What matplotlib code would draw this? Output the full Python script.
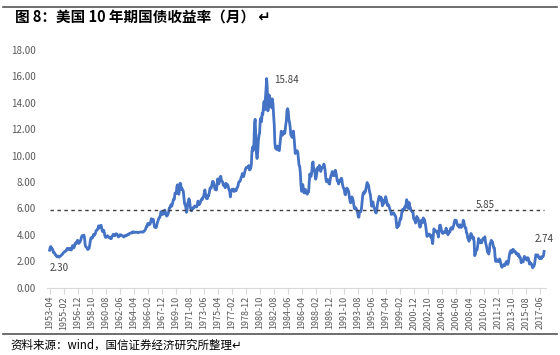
# -*- coding: utf-8 -*-
import matplotlib.pyplot as plt
import pandas as pd

plt.rcParams['font.family'] = ['Noto Sans CJK SC', 'DejaVu Sans']

# 10 year treasury yield, monthly, 1953-04 .. 2018-01
y1953 = [2.83, 3.05, 3.11, 2.93, 2.95, 2.87, 2.66, 2.68, 2.59]
y1954 = [2.48, 2.47, 2.37, 2.32, 2.37, 2.38, 2.30, 2.36, 2.38, 2.43, 2.48, 2.51]
y1955 = [2.61, 2.65, 2.68, 2.75, 2.76, 2.78, 2.90, 2.97, 2.97, 2.88, 2.89, 2.96]
y1956 = [2.90, 2.84, 2.96, 3.18, 3.07, 3.00, 3.11, 3.33, 3.38, 3.34, 3.49, 3.59]
y1957 = [3.46, 3.34, 3.41, 3.48, 3.60, 3.80, 3.93, 3.93, 3.92, 3.97, 3.72, 3.21]
y1958 = [3.09, 3.05, 2.98, 2.88, 2.92, 2.97, 3.20, 3.54, 3.76, 3.80, 3.74, 3.86]
y1959 = [4.02, 3.96, 3.99, 4.12, 4.31, 4.34, 4.40, 4.43, 4.68, 4.53, 4.53, 4.69]
y1960 = [4.72, 4.49, 4.25, 4.28, 4.35, 4.15, 3.90, 3.80, 3.80, 3.89, 3.93, 3.84]
y1961 = [3.84, 3.78, 3.74, 3.78, 3.71, 3.88, 3.92, 4.04, 3.98, 3.92, 3.94, 4.06]
y1962 = [4.08, 4.04, 3.93, 3.84, 3.87, 3.91, 4.01, 3.98, 3.98, 3.93, 3.92, 3.86]
y1963 = [3.83, 3.92, 3.93, 3.97, 3.93, 3.99, 4.02, 4.00, 4.08, 4.11, 4.12, 4.13]
y1964 = [4.17, 4.15, 4.22, 4.23, 4.20, 4.17, 4.19, 4.19, 4.20, 4.19, 4.15, 4.18]
y1965 = [4.19, 4.21, 4.21, 4.20, 4.21, 4.21, 4.20, 4.25, 4.29, 4.35, 4.45, 4.62]
y1966 = [4.61, 4.83, 4.87, 4.75, 4.78, 4.81, 5.02, 5.22, 5.18, 5.01, 5.16, 4.84]
y1967 = [4.58, 4.63, 4.54, 4.59, 4.85, 5.02, 5.16, 5.28, 5.30, 5.48, 5.75, 5.70]
y1968 = [5.53, 5.56, 5.74, 5.64, 5.87, 5.72, 5.50, 5.42, 5.46, 5.58, 5.70, 6.03]
y1969 = [6.04, 6.19, 6.30, 6.17, 6.32, 6.57, 6.72, 6.69, 7.16, 7.10, 7.14, 7.65]
y1970 = [7.79, 7.24, 7.07, 7.39, 7.91, 7.84, 7.46, 7.53, 7.39, 7.33, 6.84, 6.39]
y1971 = [6.24, 6.11, 5.70, 5.83, 6.39, 6.52, 6.73, 6.58, 6.14, 5.93, 5.81, 5.93]
y1972 = [5.95, 6.08, 6.07, 6.19, 6.13, 6.11, 6.11, 6.21, 6.55, 6.48, 6.28, 6.36]
y1973 = [6.46, 6.64, 6.71, 6.67, 6.85, 6.90, 7.13, 7.40, 7.09, 6.79, 6.73, 6.74]
y1974 = [6.99, 6.96, 7.21, 7.51, 7.58, 7.54, 7.81, 8.04, 8.04, 7.90, 7.68, 7.43]
y1975 = [7.50, 7.39, 7.73, 8.23, 8.06, 7.86, 8.06, 8.40, 8.43, 8.14, 8.05, 8.00]
y1976 = [7.74, 7.79, 7.73, 7.56, 7.90, 7.86, 7.83, 7.77, 7.59, 7.41, 7.29, 6.87]
y1977 = [7.21, 7.39, 7.46, 7.37, 7.46, 7.28, 7.33, 7.40, 7.34, 7.52, 7.58, 7.69]
y1978 = [7.96, 8.03, 8.04, 8.15, 8.35, 8.46, 8.64, 8.41, 8.42, 8.64, 8.81, 9.01]
y1979 = [9.10, 9.10, 9.12, 9.18, 9.25, 8.91, 8.95, 9.03, 9.33, 10.30, 10.65, 10.39]
y1980 = [10.80, 12.41, 12.75, 11.47, 10.18, 9.78, 10.25, 11.10, 11.51, 11.75, 12.68, 12.84]
y1981 = [12.57, 13.19, 13.12, 13.68, 14.10, 13.47, 14.28, 14.94, 15.84, 15.15, 13.39, 13.72]
y1982 = [14.59, 14.43, 13.86, 13.87, 13.62, 14.30, 13.95, 13.06, 12.34, 10.91, 10.55, 10.54]
y1983 = [10.46, 10.72, 10.51, 10.40, 10.38, 10.85, 11.38, 11.85, 11.65, 11.54, 11.69, 11.83]
y1984 = [11.67, 11.84, 12.32, 12.63, 13.41, 13.56, 13.36, 12.72, 12.52, 12.16, 11.57, 11.50]
y1985 = [11.38, 11.51, 11.86, 11.43, 10.85, 10.16, 10.31, 10.33, 10.37, 10.24, 9.78, 9.26]
y1986 = [9.19, 8.70, 7.78, 7.30, 7.71, 7.80, 7.30, 7.17, 7.45, 7.43, 7.25, 7.11]
y1987 = [7.08, 7.25, 7.25, 8.02, 8.61, 8.40, 8.45, 8.76, 9.42, 9.52, 8.86, 8.99]
y1988 = [8.67, 8.21, 8.37, 8.72, 9.09, 8.92, 9.06, 9.26, 8.98, 8.80, 8.96, 9.11]
y1989 = [9.09, 9.17, 9.36, 9.18, 8.86, 8.28, 8.02, 8.11, 8.19, 8.01, 7.87, 7.84]
y1990 = [8.21, 8.47, 8.59, 8.79, 8.76, 8.48, 8.47, 8.75, 8.89, 8.72, 8.39, 8.08]
y1991 = [8.09, 7.85, 8.11, 8.04, 8.07, 8.28, 8.27, 7.90, 7.65, 7.53, 7.42, 7.09]
y1992 = [7.03, 7.34, 7.54, 7.48, 7.39, 7.26, 6.84, 6.59, 6.42, 6.59, 6.87, 6.77]
y1993 = [6.60, 6.26, 5.98, 5.97, 6.04, 5.96, 5.81, 5.68, 5.36, 5.33, 5.72, 5.77]
y1994 = [5.75, 5.97, 6.48, 6.97, 7.18, 7.10, 7.30, 7.24, 7.46, 7.74, 7.96, 7.81]
y1995 = [7.78, 7.47, 7.20, 7.06, 6.63, 6.17, 6.28, 6.49, 6.20, 6.04, 5.93, 5.71]
y1996 = [5.65, 5.81, 6.27, 6.51, 6.74, 6.91, 6.87, 6.64, 6.83, 6.53, 6.20, 6.30]
y1997 = [6.58, 6.42, 6.69, 6.89, 6.71, 6.49, 6.22, 6.30, 6.21, 6.03, 5.88, 5.81]
y1998 = [5.54, 5.57, 5.65, 5.64, 5.65, 5.50, 5.46, 5.34, 4.81, 4.53, 4.83, 4.65]
y1999 = [4.72, 5.00, 5.23, 5.18, 5.54, 5.90, 5.79, 5.94, 5.92, 6.11, 6.03, 6.28]
y2000 = [6.66, 6.52, 6.26, 5.99, 6.44, 6.10, 6.05, 5.83, 5.80, 5.74, 5.72, 5.24]
y2001 = [5.16, 5.10, 4.89, 5.14, 5.39, 5.28, 5.24, 4.97, 4.73, 4.57, 4.65, 5.09]
y2002 = [5.04, 4.91, 5.28, 5.21, 5.16, 4.93, 4.65, 4.26, 3.87, 3.94, 4.05, 4.03]
y2003 = [4.05, 3.90, 3.81, 3.96, 3.57, 3.33, 3.98, 4.45, 4.27, 4.29, 4.30, 4.27]
y2004 = [4.15, 4.08, 3.83, 4.35, 4.72, 4.73, 4.50, 4.28, 4.13, 4.10, 4.19, 4.23]
y2005 = [4.22, 4.17, 4.50, 4.34, 4.14, 4.00, 4.18, 4.26, 4.20, 4.46, 4.54, 4.47]
y2006 = [4.42, 4.57, 4.72, 4.99, 5.11, 5.11, 5.09, 4.88, 4.72, 4.73, 4.60, 4.56]
y2007 = [4.76, 4.72, 4.56, 4.69, 4.75, 5.10, 5.00, 4.67, 4.52, 4.53, 4.15, 4.10]
y2008 = [3.74, 3.74, 3.51, 3.68, 3.88, 4.10, 4.01, 3.89, 3.69, 3.81, 3.53, 2.42]
y2009 = [2.52, 2.87, 2.82, 2.93, 3.29, 3.72, 3.56, 3.59, 3.40, 3.39, 3.40, 3.59]
y2010 = [3.73, 3.69, 3.73, 3.85, 3.42, 3.20, 3.01, 2.70, 2.65, 2.54, 2.76, 3.29]
y2011 = [3.39, 3.58, 3.41, 3.46, 3.17, 3.00, 3.00, 2.30, 1.98, 2.15, 2.01, 1.98]
y2012 = [1.97, 1.97, 2.17, 2.05, 1.80, 1.62, 1.53, 1.68, 1.72, 1.75, 1.65, 1.72]
y2013 = [1.91, 1.98, 1.96, 1.76, 1.93, 2.30, 2.58, 2.74, 2.81, 2.62, 2.72, 2.90]
y2014 = [2.86, 2.71, 2.72, 2.71, 2.56, 2.60, 2.54, 2.42, 2.53, 2.30, 2.33, 2.21]
y2015 = [1.88, 1.98, 2.04, 1.94, 2.20, 2.36, 2.32, 2.17, 2.17, 2.07, 2.26, 2.24]
y2016 = [2.09, 1.78, 1.89, 1.81, 1.81, 1.64, 1.50, 1.56, 1.63, 1.76, 2.14, 2.49]
y2017 = [2.43, 2.42, 2.48, 2.30, 2.30, 2.19, 2.32, 2.21, 2.20, 2.36, 2.35, 2.40]
y2018 = [2.74]

years = [y1953, y1954, y1955, y1956, y1957, y1958, y1959, y1960, y1961, y1962,
         y1963, y1964, y1965, y1966, y1967, y1968, y1969, y1970, y1971, y1972,
         y1973, y1974, y1975, y1976, y1977, y1978, y1979, y1980, y1981, y1982,
         y1983, y1984, y1985, y1986, y1987, y1988, y1989, y1990, y1991, y1992,
         y1993, y1994, y1995, y1996, y1997, y1998, y1999, y2000, y2001, y2002,
         y2003, y2004, y2005, y2006, y2007, y2008, y2009, y2010, y2011, y2012,
         y2013, y2014, y2015, y2016, y2017, y2018]
values = [v for yr in years for v in yr]
months = pd.period_range('1953-04', periods=len(values), freq='M').strftime('%Y-%m').tolist()

avg = 5.85
label_every = 22

if __name__ == '__main__':
    x = list(range(len(values)))
    fig = plt.figure(figsize=(5.6, 3.55), dpi=100)
    ax = fig.add_axes([0.084, 0.19, 0.891, 0.669])

    ax.plot(x, values, color='#4472C4', lw=2.0)
    ax.plot(x, [avg] * len(x), color='#404040', lw=1.0, ls=(0, (2.5, 2.5)))

    # labels
    i_min = values.index(min(values[:30]))
    i_max = values.index(max(values))
    ax.text(i_min, values[i_min] - 0.45, '%.2f' % values[i_min], ha='center', va='top',
            fontsize=7, color='#404040')
    ax.text(i_max + 12, values[i_max] - 0.1, '%.2f' % values[i_max], ha='left', va='center',
            fontsize=7, color='#404040')
    ax.text(len(x) - 94, avg + 0.05, '%.2f' % avg, ha='center', va='bottom',
            fontsize=7, color='#404040')
    ax.text(len(x) - 1, values[-1] + 0.55, '%.2f' % values[-1], ha='center', va='bottom',
            fontsize=7, color='#404040')

    ax.set_ylim(0, 18)
    ax.set_yticks(range(0, 19, 2))
    ax.set_yticklabels(['%.2f' % v for v in range(0, 19, 2)])
    ax.set_xlim(-4, len(x) + 2)
    ticks = list(range(0, len(x), label_every))
    ax.set_xticks(ticks)
    ax.set_xticklabels([months[i] for i in ticks], rotation=90)
    ax.tick_params(axis='y', length=0, labelsize=7, labelcolor='#595959', pad=8)
    ax.tick_params(axis='x', length=4, color='#d9d9d9', labelsize=6.5, labelcolor='#595959', pad=2)
    for s in ['top', 'right', 'left']:
        ax.spines[s].set_visible(False)
    ax.spines['bottom'].set_color('#d9d9d9')

    # title / source
    fig.add_artist(plt.Line2D([0.005, 0.995], [0.981, 0.981], color='#555555', lw=1.2))
    fig.text(0.027, 0.952, '图 8：美国 10 年期国债收益率（月） ↵', fontsize=10.5, fontweight='bold',
             va='center', ha='left', color='black')
    fig.add_artist(plt.Line2D([0.005, 0.995], [0.059, 0.059], color='#555555', lw=1.2))
    fig.text(0.018, 0.027, '资料来源：wind，国信证券经济研究所整理↵', fontsize=8.3, va='center',
             ha='left', color='black')

    plt.savefig('out.png', dpi=100)
